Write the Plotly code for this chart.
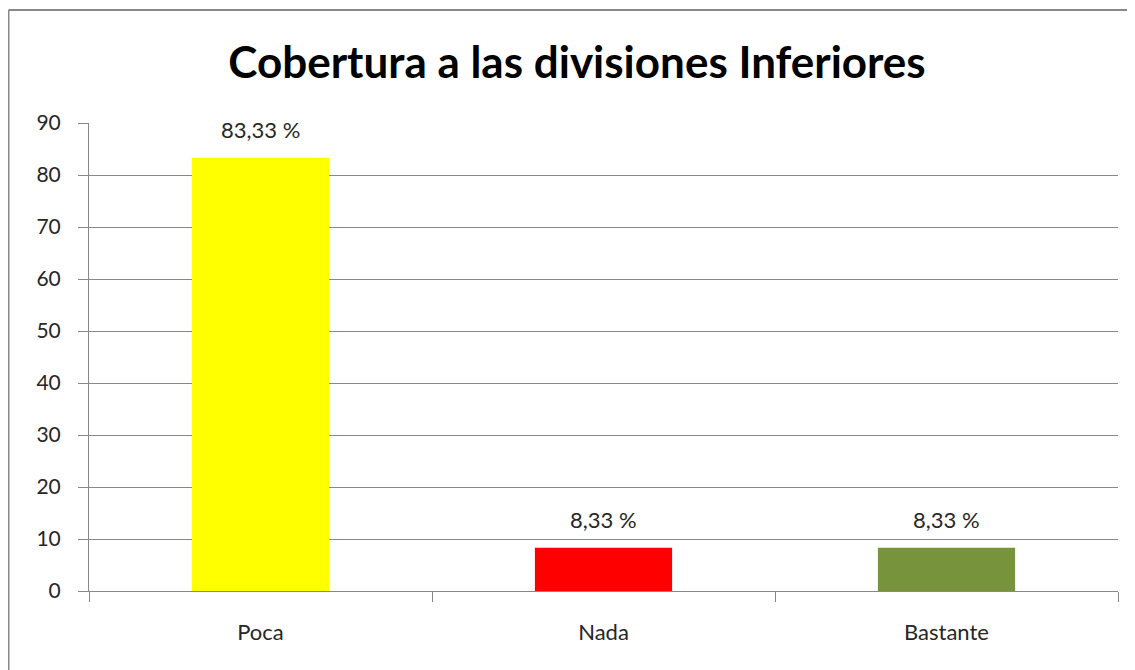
import plotly.graph_objects as go

categories = ["Poca", "Nada", "Bastante"]
values = [83.33, 8.33, 8.33]
colors = ["#FFFF00", "#FF0000", "#77933C"]
title_text = "Cobertura a las divisiones Inferiores"

# page body has an 8px margin; size figure so it fits the 1135x670 window
OFF = 8
W, H = 1135 - OFF, 670 - OFF
L, T = 89 - OFF, 123 - OFF
R = W - (1118 - OFF)
B = H - (591 - OFF)
pw, ph = W - L - R, H - T - B
FONT = "Lato, Open Sans, sans-serif"

fig = go.Figure()
fig.add_trace(go.Bar(
    x=categories, y=values, marker=dict(color=colors, line=dict(width=0)),
    width=0.4, hoverinfo="skip",
))
for c, v in zip(categories, values):
    fig.add_annotation(
        x=c, y=v, xref="x", yref="y", text=f"{v:.2f}".replace(".", ",") + " %",
        showarrow=False, yshift=28, yanchor="middle",
        font=dict(family=FONT, size=22, color="#262626"),
    )

# outer chart frame: only top and left edges fall inside the window
bx0 = -L / pw + 0.0005
by1 = (ph + T - 2) / ph
frame = dict(color="#888888", width=2)
fig.add_shape(type="line", xref="paper", yref="paper", x0=bx0, x1=1.1, y0=by1, y1=by1,
              line=frame, layer="below")
fig.add_shape(type="line", xref="paper", yref="paper", x0=bx0, x1=bx0, y0=-0.3, y1=by1,
              line=frame, layer="below")

fig.update_layout(
    width=W, height=H, margin=dict(l=L, r=R, t=T, b=B, pad=0),
    paper_bgcolor="white", plot_bgcolor="white",
    showlegend=False,
    title=dict(text=f"<b>{title_text}</b>", x=(577 - OFF) / W, xanchor="center",
               y=1 - (63 - OFF) / H, yanchor="middle",
               font=dict(family=FONT, size=44, color="black")),
    xaxis=dict(type="category", tickson="boundaries", ticks="outside", ticklen=10,
               tickcolor="#888888", showline=True, linecolor="#888888", linewidth=1,
               showgrid=False, ticklabelstandoff=22,
               tickfont=dict(family=FONT, size=22, color="#262626"),
               range=[-0.5, 2.5]),
    yaxis=dict(range=[0, 90], dtick=10, tick0=0, ticks="outside", ticklen=10,
               tickcolor="#888888", showline=True, linecolor="#888888", linewidth=1,
               showgrid=True, gridcolor="#888888", gridwidth=1, zeroline=False,
               ticklabelstandoff=13,
               tickfont=dict(family=FONT, size=21, color="#262626")),
)

fig.write_html("out.html")
